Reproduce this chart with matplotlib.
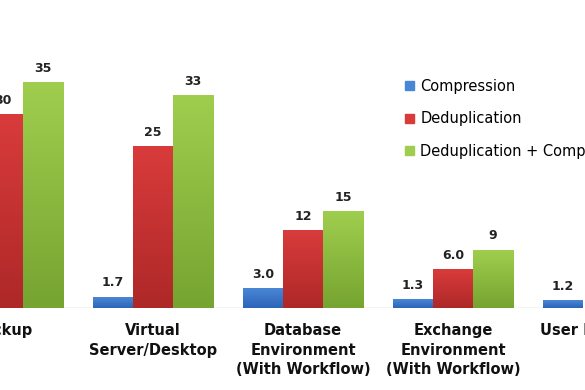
import matplotlib.pyplot as plt
import numpy as np
from matplotlib.colors import LinearSegmentedColormap

# Data (figure is a crop of a wider chart: first and last groups are partly cut off)
categories = ["Backup", "Virtual\nServer/Desktop", "Database\nEnvironment\n(With Workflow)",
              "Exchange\nEnvironment\n(With Workflow)", "User File Share"]
series = ["Compression", "Deduplication", "Deduplication + Compression"]
compression = [2.0, 1.7, 3.0, 1.3, 1.2]
deduplication = [30, 25, 12, 6.0, 4.0]
dedup_comp = [35, 33, 15, 9, 5.0]
labels = [["2.0", "1.7", "3.0", "1.3", "1.2"],
          ["30", "25", "12", "6.0", "4.0"],
          ["35", "33", "15", "9", "5.0"]]

# top colour, bottom colour for each series
colors = [("#4a86d6", "#2d64b8"), ("#d93b3b", "#ae2828"), ("#9fce4e", "#76a431")]

fig = plt.figure(figsize=(5.85, 3.9), dpi=100)
ax = fig.add_axes([0, 82 / 390, 582 / 585, 308 / 390])

x = np.arange(len(categories))
w = 0.267
values = [compression, deduplication, dedup_comp]

for k, vals in enumerate(values):
    cmap = LinearSegmentedColormap.from_list("g%d" % k, [colors[k][1], colors[k][0]])
    xs = x + (k - 1) * w
    bars = ax.bar(xs, vals, width=w, color=colors[k][0], label=series[k], zorder=2)
    grad = np.linspace(0, 1, 100).reshape(-1, 1)
    for b in bars:
        x0, y0 = b.get_x(), b.get_y()
        ax.imshow(grad, cmap=cmap, origin="lower", aspect="auto", zorder=2.5,
                  extent=[x0, x0 + b.get_width(), y0, y0 + b.get_height()])
    for xi, v, t in zip(xs, vals, labels[k]):
        ax.text(xi, v + 1.2, t, ha="center", va="bottom", fontsize=9,
                fontweight="bold", color="#222222", clip_on=True)

ax.axhline(0, color="#c8c8c8", lw=1, zorder=1)

for s in ax.spines.values():
    s.set_visible(False)
ax.set_yticks([])
ax.set_xticks([])

# category labels as plain texts (tick labels outside the view would be dropped)
for xi, c in zip(x, categories):
    ax.text(xi, -2.4, c, ha="center", va="top", fontsize=10.5, fontweight="bold",
            color="#111111", linespacing=1.35, clip_on=False)

# imshow asks for a deferred autoscale, so fix the limits last
ax.set_autoscale_on(False)
ax.set_xlim(-3 / 150, 579 / 150)
ax.set_ylim(0, 308 / 6.44)

handles = [plt.Rectangle((0, 0), 1, 1, color=c[0]) for c in colors]
fig.legend(handles, series, loc="upper left", bbox_to_anchor=(405 / 585, 1 - 79 / 390),
           frameon=False, fontsize=10.5, handlelength=0.6, handleheight=0.6,
           handletextpad=0.45, labelspacing=1.2, borderaxespad=0, borderpad=0)

fig.savefig("out.png", dpi=100)
